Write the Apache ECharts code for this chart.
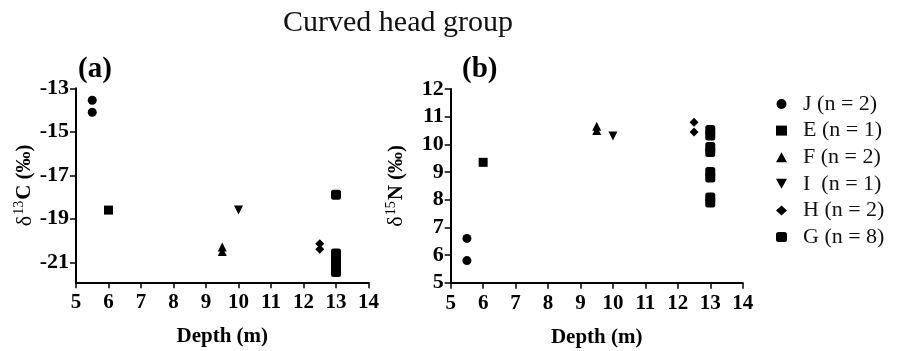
<!DOCTYPE html>
<html lang="en">
<head>
<meta charset="UTF-8">
<title>Curved head group</title>
<script src="https://cdn.jsdelivr.net/npm/echarts@6/dist/echarts.min.js"></script>
<style>
  html, body { margin: 0; padding: 0; background: #fff; }
  #chart { width: 898px; height: 351px; }
</style>
</head>
<body>
<div id="chart"></div>
<script>
// depth (m) and isotope values per group
var groupNames = ['J (n = 2)', 'E (n = 1)', 'F (n = 2)', 'I  (n = 1)', 'H (n = 2)', 'G (n = 8)'];
var jDepth = [5.5, 5.5];
var jC = [-13.55, -14.1];
var jN = [6.6, 5.8];
var eDepth = [6];
var eC = [-18.6];
var eN = [9.35];
var fDepth = [9.5, 9.5];
var fC = [-20.3, -20.5];
var fN = [10.65, 10.5];
var iDepth = [10];
var iC = [-18.6];
var iN = [10.3];
var hDepth = [12.5, 12.5];
var hC = [-20.15, -20.4];
var hN = [10.8, 10.45];
var gDepth = [13, 13, 13, 13, 13, 13, 13, 13];
var gC = [-17.9, -20.6, -20.75, -20.9, -21.0, -21.15, -21.3, -21.45];
var gN = [10.52, 10.32, 9.9, 9.72, 9.0, 8.8, 8.08, 7.9];

var cTicks = [-21, -19, -17, -15, -13];
var nTicks = [5, 6, 7, 8, 9, 10, 11, 12];

var serif = 'Liberation Serif';
var ink = '#000';
var triDown = 'path://M0,0 L10,0 L5,9 Z';
var groups = [
  { name: groupNames[0], x: jDepth, c: jC, n: jN, symbol: 'circle', size: 9 },
  { name: groupNames[1], x: eDepth, c: eC, n: eN, symbol: 'rect', size: 9 },
  { name: groupNames[2], x: fDepth, c: fC, n: fN, symbol: 'triangle', size: 9 },
  { name: groupNames[3], x: iDepth, c: iC, n: iN, symbol: triDown, size: 9 },
  { name: groupNames[4], x: hDepth, c: hC, n: hN, symbol: 'diamond', size: 9 },
  { name: groupNames[5], x: gDepth, c: gC, n: gN, symbol: 'roundRect', size: 10 }
];

function pairs(xs, ys) {
  return xs.map(function (x, i) { return [x, ys[i]]; });
}

var series = [];
groups.forEach(function (g) {
  [['c', 0], ['n', 1]].forEach(function (p) {
    series.push({
      name: g.name,
      type: 'scatter',
      xAxisIndex: p[1],
      yAxisIndex: p[1],
      symbol: g.symbol,
      symbolSize: g.size,
      itemStyle: { color: ink, opacity: 1 },
      emphasis: { disabled: true },
      data: pairs(g.x, g[p[0]])
    });
  });
});

function xAxis(gridIndex) {
  return {
    type: 'value', gridIndex: gridIndex, min: 5, max: 14, interval: 1,
    name: 'Depth (m)', nameLocation: 'middle', nameGap: 44,
    nameTextStyle: { fontFamily: serif, fontWeight: 'bold', fontSize: 21, color: ink },
    axisLine: { lineStyle: { color: ink, width: 2 } },
    axisTick: { length: 6, lineStyle: { color: ink, width: 1.5 } },
    axisLabel: { fontFamily: serif, fontWeight: 'bold', fontSize: 21, color: ink, margin: 10 },
    splitLine: { show: false }
  };
}

function yAxis(gridIndex, min, max, ticks, sup, el, gap) {
  return {
    type: 'value', gridIndex: gridIndex, min: min, max: max,
    name: '{r|δ}{s|' + sup + '}{b|' + el + ' (‰)}', nameLocation: 'middle', nameGap: gap, nameRotate: 90,
    nameTextStyle: {
      rich: {
        r: { fontFamily: serif, fontSize: 22, color: ink },
        s: { fontFamily: serif, fontSize: 14, color: ink, verticalAlign: 'top', padding: [0, 1, 10, 1] },
        b: { fontFamily: serif, fontWeight: 'bold', fontSize: 21, color: ink }
      }
    },
    axisLine: { show: true, lineStyle: { color: ink, width: 2 } },
    axisTick: { show: true, length: 6, customValues: ticks, lineStyle: { color: ink, width: 1.5 } },
    axisLabel: { customValues: ticks, fontFamily: serif, fontWeight: 'bold', fontSize: 22, color: ink, margin: 7 },
    splitLine: { show: false }
  };
}

var option = {
  animation: false,
  title: {
    text: 'Curved head group', left: 278, top: 3,
    textStyle: { fontFamily: serif, fontWeight: 'normal', fontSize: 30, color: '#111' }
  },
  graphic: [
    { type: 'text', left: 78, top: 55, style: { text: '(a)', fontFamily: serif, fontWeight: 'bold', fontSize: 29, fill: ink } },
    { type: 'text', left: 462, top: 55, style: { text: '(b)', fontFamily: serif, fontWeight: 'bold', fontSize: 29, fill: ink } }
  ],
  legend: {
    orient: 'vertical', left: 771, top: 88,
    itemWidth: 11, itemHeight: 10, itemGap: 4.6,
    textStyle: { fontFamily: serif, fontSize: 22, lineHeight: 22, color: '#111', padding: [0, 0, 0, 11] },
    data: groups.map(function (g) { return { name: g.name, icon: g.symbol, itemStyle: { color: ink, opacity: 1 } }; })
  },
  grid: [
    { left: 76, right: 529.5, top: 88.3, bottom: 68.7, outerBoundsMode: 'none' },
    { left: 450.7, right: 155.3, top: 89, bottom: 68.3, outerBoundsMode: 'none' }
  ],
  xAxis: [xAxis(0), xAxis(1)],
  yAxis: [
    yAxis(0, -21.92, -13, cTicks, '13', 'C', 38),
    yAxis(1, 5, 12, nTicks, '15', 'N', 42)
  ],
  series: series
};

var myChart = echarts.init(document.getElementById('chart'));
myChart.setOption(option);
</script>
</body>
</html>
